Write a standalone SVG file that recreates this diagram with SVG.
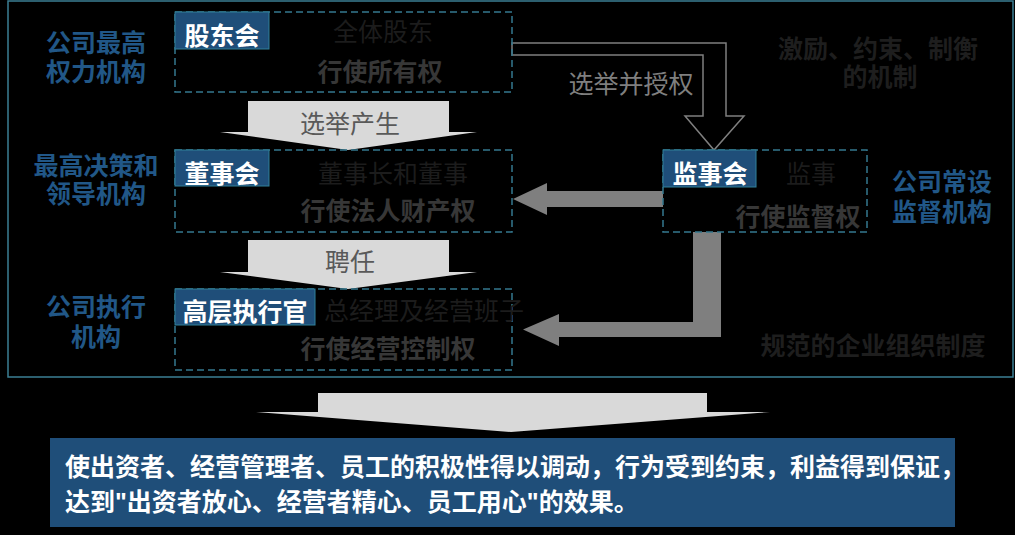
<svg xmlns="http://www.w3.org/2000/svg" width="1015" height="535" viewBox="0 0 1015 535">
<defs>
<style>
text{font-family:"Liberation Sans","Noto Sans CJK SC",sans-serif;font-size:25px;}
.blue{fill:#215787;font-weight:bold;text-anchor:middle;}
.lab{fill:#ffffff;font-weight:bold;text-anchor:middle;}
.faint{fill:#1c1c1c;text-anchor:middle;}
.faintb{fill:#1e1e1e;font-weight:bold;text-anchor:middle;}
.duty{fill:#373737;font-weight:bold;text-anchor:middle;}
.gray{fill:#595959;text-anchor:middle;}
.dash{fill:none;stroke:#34788f;stroke-width:1.5;stroke-dasharray:7 4;}
.tag{fill:#1f4e79;stroke:#31809a;stroke-width:1;}
.block{fill:#d9d9d9;}
.solid{fill:#7f7f7f;}
</style>
</defs>
<rect x="0" y="0" width="1015" height="535" fill="#000000"/>
<rect x="8" y="1" width="1005" height="376" fill="none" stroke="#3b7f94" stroke-width="1.5"/>

<g id="connectors">
<path class="block" d="M248,101 L449,101 L449,132 L477,132 L348,150 L220,132 L248,132 Z"/>
<text class="gray" x="350" y="133">选举产生</text>
<path class="block" d="M248,240 L449,240 L449,272 L477,272 L348,289 L220,272 L248,272 Z"/>
<text class="gray" x="350" y="271">聘任</text>
<path d="M512,43 L726,43 L726,116 L744,116 L714,150 L685,116 L703,116 L703,55 L512,55 Z" fill="#000000" stroke="#7f7f7f" stroke-width="1.5"/>
<text x="631" y="93" fill="#7f7f7f" text-anchor="middle">选举并授权</text>
<path class="solid" d="M663,191 L547,191 L547,183 L513,199 L547,215 L547,207 L663,207 Z"/>
<path class="solid" d="M693,232 L721,232 L721,337 L559,337 L559,346 L523,329.5 L559,314 L559,322 L693,322 Z"/>
<path class="block" d="M318,393 L707,393 L707,412 L770,412 L511,432 L256,412 L318,412 Z"/>
</g>

<g id="shareholders">
<rect class="dash" x="175" y="12" width="337" height="80"/>
<rect class="tag" x="175" y="12" width="94" height="37"/>
<text class="lab" x="222" y="45">股东会</text>
<text class="faint" x="383" y="41">全体股东</text>
<text class="duty" x="380" y="81">行使所有权</text>
</g>
<g id="label-top">
<text class="blue" x="96" y="52">公司最高</text>
<text class="blue" x="96" y="81">权力机构</text>
</g>

<g id="board">
<rect class="dash" x="175" y="150" width="337" height="82"/>
<rect class="tag" x="175" y="150" width="94" height="36"/>
<text class="lab" x="222" y="183">董事会</text>
<text class="faint" x="393" y="183">董事长和董事</text>
<text class="duty" x="388" y="220">行使法人财产权</text>
</g>
<g id="label-board">
<text class="blue" x="96" y="175">最高决策和</text>
<text class="blue" x="96" y="203">领导机构</text>
</g>

<g id="executives">
<rect class="dash" x="175" y="289" width="337" height="81"/>
<rect class="tag" x="175" y="289" width="140" height="36"/>
<text class="lab" x="245" y="321">高层执行官</text>
<text class="faint" x="424" y="320">总经理及经营班子</text>
<text class="duty" x="388" y="358">行使经营控制权</text>
</g>
<g id="label-exec">
<text class="blue" x="96" y="316">公司执行</text>
<text class="blue" x="96" y="346">机构</text>
</g>

<g id="supervisors">
<rect class="dash" x="663" y="150" width="204" height="82"/>
<rect class="tag" x="663" y="150" width="93" height="37"/>
<text class="lab" x="710" y="183">监事会</text>
<text class="faint" x="811" y="183">监事</text>
<text class="duty" x="798" y="226">行使监督权</text>
</g>
<g id="label-super">
<text class="blue" x="942" y="191">公司常设</text>
<text class="blue" x="942" y="221">监督机构</text>
</g>

<g id="mechanism">
<text class="faintb" x="878" y="58">激励、约束、制衡</text>
<text class="faintb" x="880" y="86">的机制</text>
</g>
<g id="system">
<text class="faintb" x="873" y="355">规范的企业组织制度</text>
</g>

<g id="result">
<rect x="50" y="438" width="905" height="89" fill="#1f4e79"/>
<text x="65" y="476" fill="#ffffff" font-weight="bold" font-size="24.5">使出资者、经营管理者、员工的积极性得以调动，行为受到约束，利益得到保证，</text>
<text x="65" y="511" fill="#ffffff" font-weight="bold" font-size="24.5">达到"出资者放心、经营者精心、员工用心"的效果。</text>
</g>
</svg>
